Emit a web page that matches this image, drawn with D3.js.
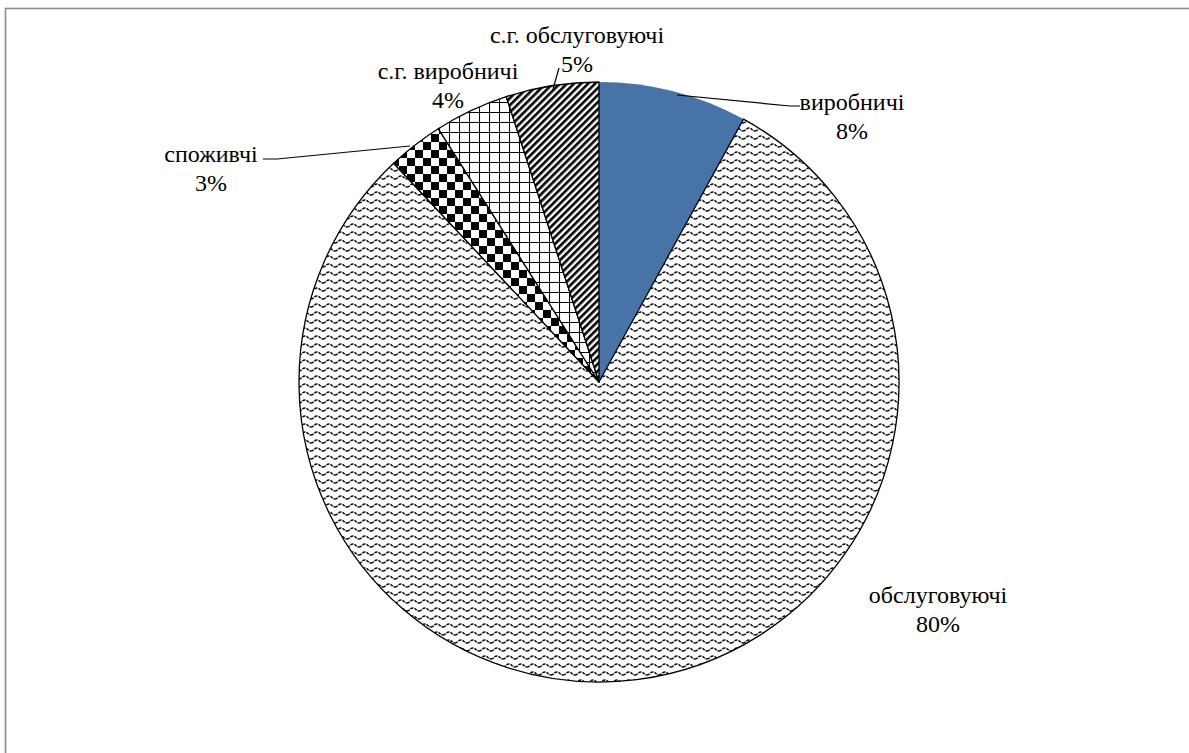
<!DOCTYPE html>
<html>
<head>
<meta charset="utf-8">
<script src="https://cdn.jsdelivr.net/npm/d3@7"></script>
<style>
  html, body { margin: 0; padding: 0; background: #fff; }
  svg { display: block; }
</style>
</head>
<body>
<svg id="chart" width="1189" height="753"></svg>
<script>
// Structure of cooperatives by type, share of total (%)
const categories = ["виробничі", "обслуговуючі", "споживчі", "с.г. виробничі", "с.г. обслуговуючі"];
const values = [8, 80, 3, 4, 5];

// Fill per slice: plain colour or pattern id
const fills = ["#4873a6", "url(#wave)", "url(#checker)", "url(#grid)", "url(#diag)"];

// Label placement (text block centre) and optional leader line, per slice
const labelLayout = [
  { x: 852, y: 105, leader: [[800, 106], [790, 106], [677, 95]] },
  { x: 938, y: 598, leader: null },
  { x: 211, y: 157, leader: [[263, 159], [277, 159], [410, 146]] },
  { x: 448, y: 74, leader: null },
  { x: 577, y: 38, leader: [[559, 68], [553, 89]] }
];

const width = 1189, height = 753;
const cx = 599, cy = 382, radius = 300;
const fontFamily = "Liberation Serif, Times New Roman, serif";
const fontSize = 24, lineGap = 26;

const svg = d3.select("#chart");

// Outer frame
svg.append("rect")
  .attr("x", 5.5).attr("y", 8.5)
  .attr("width", width + 10).attr("height", height + 10)
  .attr("fill", "none").attr("stroke", "#8c8c8c").attr("stroke-width", 1.6);

// Fill patterns
const defs = svg.append("defs");

const wave = defs.append("pattern").attr("id", "wave")
  .attr("patternUnits", "userSpaceOnUse").attr("width", 12).attr("height", 8);
wave.append("rect").attr("width", 12).attr("height", 8).attr("fill", "#fff");
wave.append("path")
  .attr("d", "M0,5 C3,5 3,2 6,2 C9,2 9,5 12,5")
  .attr("fill", "none").attr("stroke", "#000").attr("stroke-width", 1.4)
  .attr("stroke-dasharray", "3 1");

const checker = defs.append("pattern").attr("id", "checker")
  .attr("patternUnits", "userSpaceOnUse").attr("width", 16).attr("height", 16);
checker.append("rect").attr("width", 16).attr("height", 16).attr("fill", "#fff");
checker.append("rect").attr("x", 0).attr("y", 0).attr("width", 8).attr("height", 8).attr("fill", "#000");
checker.append("rect").attr("x", 8).attr("y", 8).attr("width", 8).attr("height", 8).attr("fill", "#000");

const grid = defs.append("pattern").attr("id", "grid")
  .attr("patternUnits", "userSpaceOnUse").attr("width", 10).attr("height", 10);
grid.append("rect").attr("width", 10).attr("height", 10).attr("fill", "#fff");
grid.append("path").attr("d", "M0.5,0 V10 M0,0.5 H10")
  .attr("stroke", "#000").attr("stroke-width", 1.1);

const diag = defs.append("pattern").attr("id", "diag")
  .attr("patternUnits", "userSpaceOnUse").attr("width", 5).attr("height", 5)
  .attr("patternTransform", "rotate(45)");
diag.append("rect").attr("width", 5).attr("height", 5).attr("fill", "#fff");
diag.append("rect").attr("x", 0).attr("y", 0).attr("width", 2.6).attr("height", 5).attr("fill", "#000");

// Pie
const pie = d3.pie().sort(null).value(d => d.value);
const arc = d3.arc().innerRadius(0).outerRadius(radius);

const data = categories.map((c, i) => ({ name: c, value: values[i], fill: fills[i], i }));

const g = svg.append("g").attr("transform", `translate(${cx},${cy})`);

g.selectAll("path.slice")
  .data(pie(data))
  .join("path")
  .attr("class", "slice")
  .attr("d", arc)
  .attr("fill", d => d.data.fill)
  .attr("stroke", d => d.data.i === 0 ? "none" : "#000")
  .attr("stroke-width", 1.3)
  .attr("stroke-linejoin", "round");

// Leader lines
const line = d3.line();
labelLayout.forEach(l => {
  if (l.leader) {
    svg.append("path")
      .attr("d", line(l.leader))
      .attr("fill", "none").attr("stroke", "#000").attr("stroke-width", 1.2);
  }
});

// Labels: category name and percentage
const labels = svg.selectAll("g.label")
  .data(data)
  .join("g")
  .attr("class", "label")
  .attr("transform", d => `translate(${labelLayout[d.i].x},${labelLayout[d.i].y})`);

labels.append("text")
  .style("font-family", fontFamily)
  .style("font-size", fontSize + "px")
  .attr("fill", "#000")
  .attr("text-anchor", "middle")
  .attr("dy", "0.22em")
  .text(d => d.name);

labels.append("text")
  .style("font-family", fontFamily)
  .style("font-size", fontSize + "px")
  .attr("fill", "#000")
  .attr("text-anchor", "middle")
  .attr("y", lineGap)
  .attr("dy", "0.33em")
  .text(d => d3.format("d")(d.value) + "%");
</script>
</body>
</html>
